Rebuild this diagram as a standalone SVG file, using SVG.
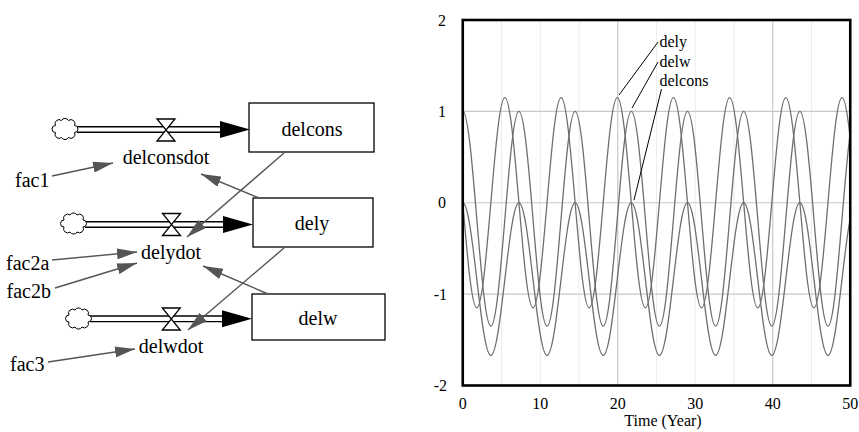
<svg xmlns="http://www.w3.org/2000/svg" width="859" height="432" viewBox="0 0 859 432" font-family="'Liberation Serif', 'Times New Roman', 'DejaVu Serif', serif">
<style>
text{font-family:'Liberation Serif','Times New Roman','DejaVu Serif',serif;fill:#000}
.lbl{font-size:20px}
.ax{font-size:16px}
.stock{fill:#fff;stroke:#000;stroke-width:1.3}
.pipeO{stroke:#000;stroke-width:7;fill:none}
.pipeI{stroke:#fff;stroke-width:4.2;fill:none}
.valve{fill:#fff;stroke:#000;stroke-width:1.3}
.cloud{fill:#fff;stroke:#000;stroke-width:1}
.link{stroke:#555;stroke-width:1.4;fill:none;marker-end:url(#ah)}
.curve{stroke:#6e6e6e;stroke-width:1.3;fill:none}
.gmin{stroke:#ececec;stroke-width:1}
.gmaj{stroke:#c8c8c8;stroke-width:1.2}
.lead{stroke:#000;stroke-width:1}
</style>
<defs>
<marker id="ah" markerUnits="userSpaceOnUse" markerWidth="20" markerHeight="11" refX="20" refY="5.5" orient="auto">
<path d="M0,0 L20,5.5 L0,11 Z" fill="#555"/>
</marker>
<path id="cl" d="M -9,-4 a4,4 0 0 1 6,-5 a4,4 0 0 1 7,0 a4,4 0 0 1 6,5 a3.5,3.5 0 0 1 0,7 a4,4 0 0 1 -6,5 a4,4 0 0 1 -7,0 a4,4 0 0 1 -6,-5 a3.5,3.5 0 0 1 0,-7 Z"/>
<clipPath id="plot"><rect x="462.75" y="20" width="387.5" height="365.5"/></clipPath>
</defs>

<!-- flows -->
<g id="flow-delconsdot">
<line class="pipeO" x1="77" y1="129.5" x2="222" y2="129.5"/>
<line class="pipeI" x1="77" y1="129.5" x2="224" y2="129.5"/>
<polygon points="220,121 250,129.5 220,138" fill="#000"/>
<use href="#cl" class="cloud" transform="translate(64.5,129.5)"/>
<path class="valve" d="M157,119 L175,119 L157,141 L175,141 Z"/>
<text class="lbl" x="166" y="164" text-anchor="middle">delconsdot</text>
</g>
<g id="flow-delydot">
<line class="pipeO" x1="85" y1="224.5" x2="225" y2="224.5"/>
<line class="pipeI" x1="85" y1="224.5" x2="227" y2="224.5"/>
<polygon points="223,216 253,224.5 223,233" fill="#000"/>
<use href="#cl" class="cloud" transform="translate(73,224)"/>
<path class="valve" d="M162.5,213.5 L180.5,213.5 L162.5,235.5 L180.5,235.5 Z"/>
<text class="lbl" x="171" y="259" text-anchor="middle">delydot</text>
</g>
<g id="flow-delwdot">
<line class="pipeO" x1="90" y1="318.8" x2="224" y2="318.8"/>
<line class="pipeI" x1="90" y1="318.8" x2="226" y2="318.8"/>
<polygon points="222,310.3 252,318.8 222,327.3" fill="#000"/>
<use href="#cl" class="cloud" transform="translate(78,319)"/>
<path class="valve" d="M162.3,308 L180.3,308 L162.3,330 L180.3,330 Z"/>
<text class="lbl" x="171" y="353" text-anchor="middle">delwdot</text>
</g>

<!-- stocks -->
<g id="delcons"><rect class="stock" x="249" y="103" width="125" height="49"/><text class="lbl" x="312" y="136" text-anchor="middle">delcons</text></g>
<g id="dely"><rect class="stock" x="253" y="198" width="120" height="49"/><text class="lbl" x="312" y="230" text-anchor="middle">dely</text></g>
<g id="delw"><rect class="stock" x="252" y="294" width="133" height="46"/><text class="lbl" x="318" y="325" text-anchor="middle">delw</text></g>

<!-- auxiliaries -->
<g id="fac1"><text class="lbl" x="15" y="187">fac1</text></g>
<g id="fac2a"><text class="lbl" x="6" y="270">fac2a</text></g>
<g id="fac2b"><text class="lbl" x="6.5" y="298">fac2b</text></g>
<g id="fac3"><text class="lbl" x="10" y="370.5">fac3</text></g>

<g id="connectors">
<line class="link" x1="52" y1="176" x2="113" y2="163"/>
<line class="link" x1="52" y1="260" x2="137" y2="252"/>
<line class="link" x1="55" y1="288" x2="137" y2="263"/>
<line class="link" x1="48" y1="362" x2="135" y2="349"/>
<line class="link" x1="284" y1="153" x2="187" y2="237"/>
<line class="link" x1="259" y1="198" x2="201" y2="174"/>
<line class="link" x1="284" y1="248" x2="188" y2="330"/>
<line class="link" x1="268" y1="294" x2="203" y2="266"/>
</g>

<!-- chart -->
<g id="chart">
<g id="grid">
<line class="gmin" x1="501.5" y1="20" x2="501.5" y2="385.5"/>
<line class="gmin" x1="540.25" y1="20" x2="540.25" y2="385.5"/>
<line class="gmin" x1="579" y1="20" x2="579" y2="385.5"/>
<line class="gmin" x1="656.5" y1="20" x2="656.5" y2="385.5"/>
<line class="gmin" x1="695.25" y1="20" x2="695.25" y2="385.5"/>
<line class="gmin" x1="734" y1="20" x2="734" y2="385.5"/>
<line class="gmin" x1="811.5" y1="20" x2="811.5" y2="385.5"/>
<line class="gmaj" x1="617.75" y1="20" x2="617.75" y2="385.5"/>
<line class="gmaj" x1="772.75" y1="20" x2="772.75" y2="385.5"/>
<line class="gmaj" x1="462.75" y1="111.375" x2="850.25" y2="111.375"/>
<line class="gmaj" x1="462.75" y1="202.75" x2="850.25" y2="202.75"/>
<line class="gmaj" x1="462.75" y1="294.125" x2="850.25" y2="294.125"/>
</g>
<g clip-path="url(#plot)">
<path id="curve-dely" class="curve" d="M462.75,202.75
c4.581,53.83 8.963,105.08 14.047,105.08 c5.084,0 9.466,-51.25 14.047,-105.08 c4.581,-53.83 8.963,-105.08 14.047,-105.08 c5.084,0 9.466,51.25 14.047,105.08
c4.581,53.83 8.963,105.08 14.047,105.08 c5.084,0 9.466,-51.25 14.047,-105.08 c4.581,-53.83 8.963,-105.08 14.047,-105.08 c5.084,0 9.466,51.25 14.047,105.08
c4.581,53.83 8.963,105.08 14.047,105.08 c5.084,0 9.466,-51.25 14.047,-105.08 c4.581,-53.83 8.963,-105.08 14.047,-105.08 c5.084,0 9.466,51.25 14.047,105.08
c4.581,53.83 8.963,105.08 14.047,105.08 c5.084,0 9.466,-51.25 14.047,-105.08 c4.581,-53.83 8.963,-105.08 14.047,-105.08 c5.084,0 9.466,51.25 14.047,105.08
c4.581,53.83 8.963,105.08 14.047,105.08 c5.084,0 9.466,-51.25 14.047,-105.08 c4.581,-53.83 8.963,-105.08 14.047,-105.08 c5.084,0 9.466,51.25 14.047,105.08
c4.581,53.83 8.963,105.08 14.047,105.08 c5.084,0 9.466,-51.25 14.047,-105.08 c4.581,-53.83 8.963,-105.08 14.047,-105.08 c5.084,0 9.466,51.25 14.047,105.08
c4.581,53.83 8.963,105.08 14.047,105.08 c5.084,0 9.466,-51.25 14.047,-105.08 c4.581,-53.83 8.963,-105.08 14.047,-105.08 c5.084,0 9.466,51.25 14.047,105.08"/>
<path id="curve-delw" class="curve" d="M462.75,111.375
c5.084,0 9.466,52.36 14.047,107.37 c4.581,55 8.963,107.37 14.047,107.37 c5.084,0 9.466,-52.36 14.047,-107.37 c4.581,-55 8.963,-107.37 14.047,-107.37
c5.084,0 9.466,52.36 14.047,107.37 c4.581,55 8.963,107.37 14.047,107.37 c5.084,0 9.466,-52.36 14.047,-107.37 c4.581,-55 8.963,-107.37 14.047,-107.37
c5.084,0 9.466,52.36 14.047,107.37 c4.581,55 8.963,107.37 14.047,107.37 c5.084,0 9.466,-52.36 14.047,-107.37 c4.581,-55 8.963,-107.37 14.047,-107.37
c5.084,0 9.466,52.36 14.047,107.37 c4.581,55 8.963,107.37 14.047,107.37 c5.084,0 9.466,-52.36 14.047,-107.37 c4.581,-55 8.963,-107.37 14.047,-107.37
c5.084,0 9.466,52.36 14.047,107.37 c4.581,55 8.963,107.37 14.047,107.37 c5.084,0 9.466,-52.36 14.047,-107.37 c4.581,-55 8.963,-107.37 14.047,-107.37
c5.084,0 9.466,52.36 14.047,107.37 c4.581,55 8.963,107.37 14.047,107.37 c5.084,0 9.466,-52.36 14.047,-107.37 c4.581,-55 8.963,-107.37 14.047,-107.37
c5.084,0 9.466,52.36 14.047,107.37 c4.581,55 8.963,107.37 14.047,107.37 c5.084,0 9.466,-52.36 14.047,-107.37 c4.581,-55 8.963,-107.37 14.047,-107.37"/>
<path id="curve-delcons" class="curve" d="M462.75,202.75
c5.084,0 9.466,37.21 14.047,76.3 c4.581,39.09 8.963,76.3 14.047,76.3 c5.084,0 9.466,-37.21 14.047,-76.3 c4.581,-39.09 8.963,-76.3 14.047,-76.3
c5.084,0 9.466,37.21 14.047,76.3 c4.581,39.09 8.963,76.3 14.047,76.3 c5.084,0 9.466,-37.21 14.047,-76.3 c4.581,-39.09 8.963,-76.3 14.047,-76.3
c5.084,0 9.466,37.21 14.047,76.3 c4.581,39.09 8.963,76.3 14.047,76.3 c5.084,0 9.466,-37.21 14.047,-76.3 c4.581,-39.09 8.963,-76.3 14.047,-76.3
c5.084,0 9.466,37.21 14.047,76.3 c4.581,39.09 8.963,76.3 14.047,76.3 c5.084,0 9.466,-37.21 14.047,-76.3 c4.581,-39.09 8.963,-76.3 14.047,-76.3
c5.084,0 9.466,37.21 14.047,76.3 c4.581,39.09 8.963,76.3 14.047,76.3 c5.084,0 9.466,-37.21 14.047,-76.3 c4.581,-39.09 8.963,-76.3 14.047,-76.3
c5.084,0 9.466,37.21 14.047,76.3 c4.581,39.09 8.963,76.3 14.047,76.3 c5.084,0 9.466,-37.21 14.047,-76.3 c4.581,-39.09 8.963,-76.3 14.047,-76.3
c5.084,0 9.466,37.21 14.047,76.3 c4.581,39.09 8.963,76.3 14.047,76.3 c5.084,0 9.466,-37.21 14.047,-76.3 c4.581,-39.09 8.963,-76.3 14.047,-76.3"/>
</g>
<rect x="462.75" y="20" width="387.5" height="365.5" fill="none" stroke="#000" stroke-width="2.6"/>
<g id="axis-labels">
<text class="ax" x="446" y="25.5" text-anchor="end">2</text>
<text class="ax" x="446" y="117" text-anchor="end">1</text>
<text class="ax" x="446" y="208" text-anchor="end">0</text>
<text class="ax" x="447" y="300" text-anchor="end">-1</text>
<text class="ax" x="447" y="391" text-anchor="end">-2</text>
<text class="ax" x="462.75" y="408.5" text-anchor="middle">0</text>
<text class="ax" x="540.25" y="408.5" text-anchor="middle">10</text>
<text class="ax" x="617.75" y="408.5" text-anchor="middle">20</text>
<text class="ax" x="695.25" y="408.5" text-anchor="middle">30</text>
<text class="ax" x="772.75" y="408.5" text-anchor="middle">40</text>
<text class="ax" x="850.25" y="408.5" text-anchor="middle">50</text>
<text class="ax" x="663" y="425.5" text-anchor="middle">Time (Year)</text>
</g>
<g id="curve-labels">
<line class="lead" x1="658" y1="42" x2="619" y2="95"/>
<line class="lead" x1="658" y1="62" x2="632" y2="108"/>
<line class="lead" x1="661.5" y1="89" x2="634" y2="200"/>
<text class="ax" x="659.5" y="46.5">dely</text>
<text class="ax" x="659.5" y="66.5">delw</text>
<text class="ax" x="659.5" y="85.5">delcons</text>
</g>
</g>
</svg>
